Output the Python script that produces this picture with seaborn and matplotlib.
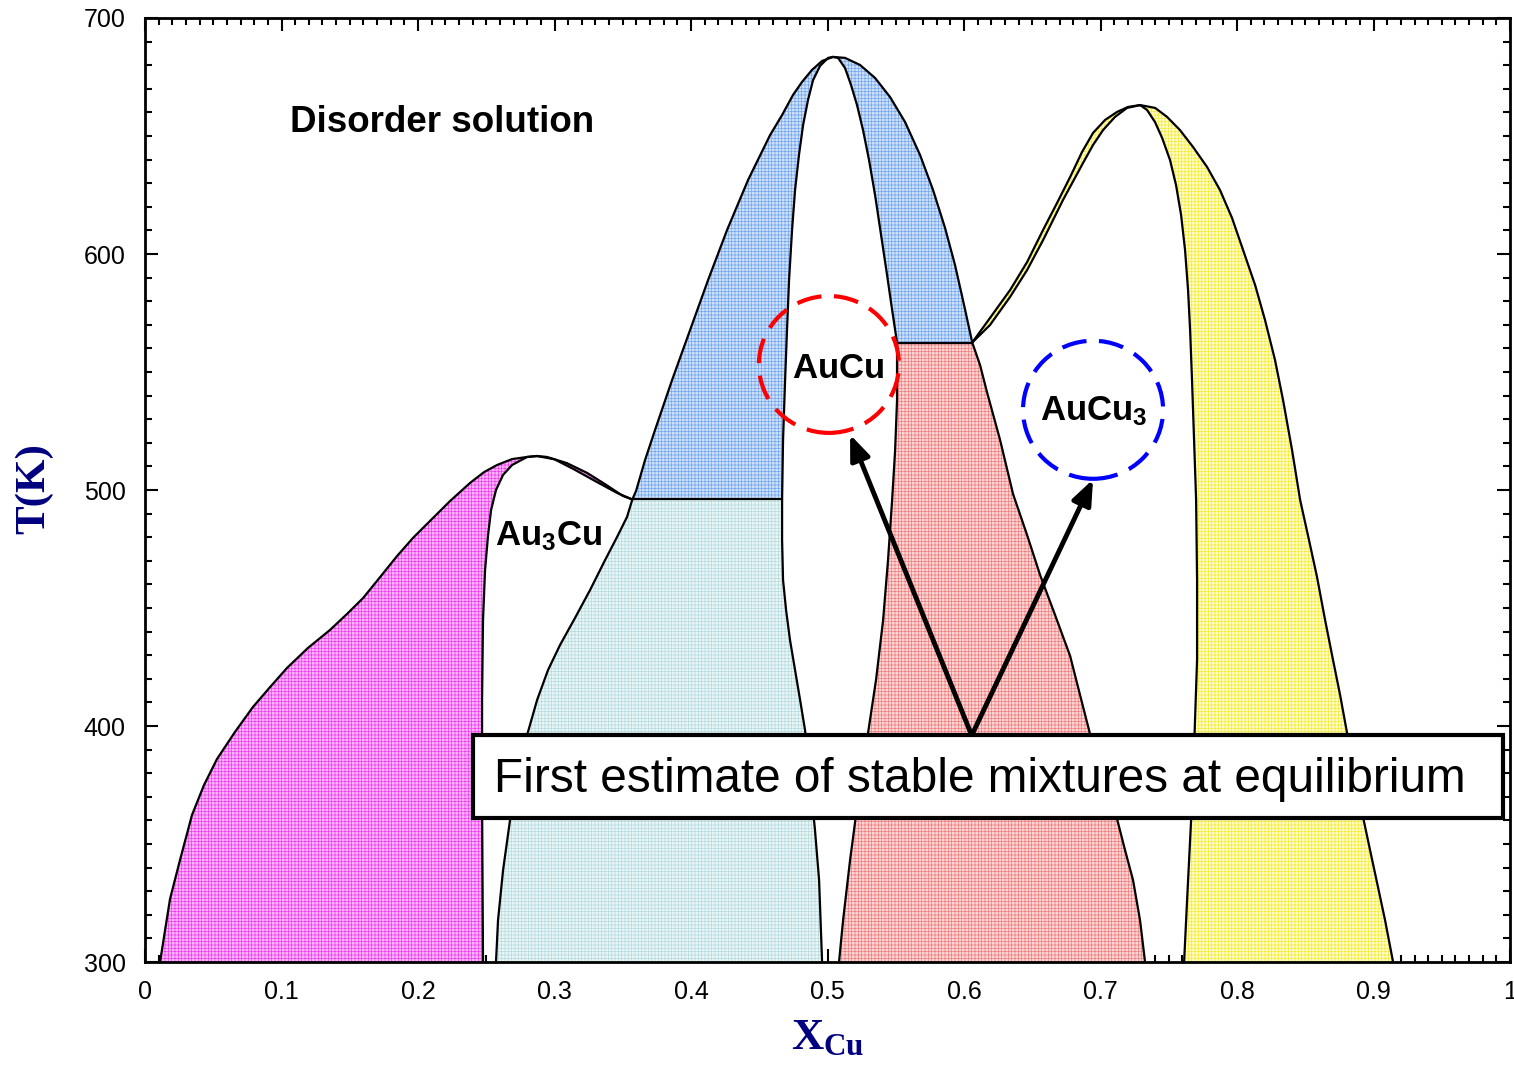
import numpy as np
import matplotlib
matplotlib.use('Agg')
import matplotlib.pyplot as plt
import seaborn as sns
from matplotlib.patches import Ellipse, Rectangle
from matplotlib.ticker import FixedLocator, MultipleLocator

# Au-Cu phase diagram: boundaries (x = X_Cu, t = T in K)

# Au-rich side: disorder / (disorder + Au3Cu) boundary
mag_outer_x = [0.011, 0.0147, 0.0183, 0.0256, 0.0344, 0.0432, 0.0527, 0.0659, 0.0791, 0.0916, 0.1040,
               0.1194, 0.1355, 0.1480, 0.1597, 0.1722, 0.1846, 0.1963, 0.2088, 0.2234, 0.2381, 0.2484,
               0.2579, 0.2689, 0.2799, 0.2872]
mag_outer_t = [300, 313.6, 326.7, 343.2, 362.3, 375.0, 386.0, 397.5, 408.1, 416.5, 424.6,
               433.1, 440.7, 447.5, 454.2, 463.1, 472.0, 479.7, 486.9, 495.3, 503.0, 507.6,
               510.6, 513.1, 514.0, 514.4]
# Au3Cu left boundary
au3cu_left_x = [0.2872, 0.2799, 0.2689, 0.2623, 0.2571, 0.2535, 0.2513, 0.2491, 0.2476, 0.2469, 0.2469, 0.2476]
au3cu_left_t = [514.4, 514.0, 510.6, 506.4, 500.0, 491.5, 480.9, 466.1, 444.9, 411.0, 368.6, 300]
# thin two-phase band on the right of Au3Cu
mag_band_up_x = [0.2872, 0.2945, 0.309, 0.324, 0.338, 0.350, 0.357]
mag_band_up_t = [514.4, 514.0, 511.4, 507.2, 502.1, 497.5, 496.0]
mag_band_lo_x = [0.2872, 0.300, 0.3135, 0.331, 0.346, 0.357]
mag_band_lo_t = [514.4, 513.0, 509.0, 503.4, 498.7, 496.0]

# Au3Cu + AuCu region
cyan_left_x = [0.357, 0.3531, 0.3458, 0.3370, 0.3260, 0.3150, 0.3040, 0.2952, 0.2872, 0.2799, 0.2733,
               0.2674, 0.2623, 0.2586, 0.2571]
cyan_left_t = [496, 488.6, 480.1, 470.3, 457.6, 445.8, 434.3, 423.7, 411.0, 396.2, 381.4,
               360.2, 339.0, 317.8, 300]
cyan_right_x = [0.4667, 0.4667, 0.4674, 0.4696, 0.4725, 0.4762, 0.4799, 0.4835, 0.4872, 0.4908, 0.4938, 0.4960]
cyan_right_t = [496, 478.8, 461.9, 449.2, 436.4, 423.7, 411.0, 398.3, 377.1, 355.9, 334.7, 300]

# AuCu dome
blue_outer_left_x = [0.357, 0.3597, 0.3663, 0.3736, 0.3861, 0.3993, 0.4125, 0.4264, 0.4418, 0.4579, 0.4667,
                     0.4747, 0.4813, 0.4886, 0.4960, 0.504]
blue_outer_left_t = [496, 499.6, 512.7, 525.4, 546.6, 567.8, 589.0, 610.2, 631.4, 650.4, 658.9,
                     667.4, 672.9, 678.0, 681.8, 683.5]
aucu_inner_left_x = [0.504, 0.5004, 0.4945, 0.4894, 0.4857, 0.4821, 0.4791, 0.4762, 0.4740, 0.4718, 0.4703,
                     0.4689, 0.4674, 0.4667]
aucu_inner_left_t = [683.5, 683.1, 679.7, 673.7, 665.3, 654.7, 642.1, 627.1, 610.2, 589.0, 567.8,
                     546.6, 521.2, 496]
aucu_inner_right_x = [0.504, 0.5077, 0.5128, 0.5172, 0.5216, 0.5260, 0.5304, 0.5348, 0.5392, 0.5436, 0.5473, 0.5509]
aucu_inner_right_t = [683.5, 683.1, 678.8, 671.6, 663.1, 652.5, 639.8, 625.0, 608.1, 591.1, 576.3, 562.5]
blue_outer_right_x = [0.504, 0.5128, 0.5238, 0.5348, 0.5458, 0.5568, 0.5678, 0.5773, 0.5861, 0.5934, 0.6000, 0.6060]
blue_outer_right_t = [683.5, 683.1, 680.1, 674.6, 666.5, 655.9, 641.9, 627.1, 611.0, 595.3, 578.4, 562.5]

# AuCu + AuCu3 region
red_left_x = [0.5509, 0.5509, 0.5495, 0.5473, 0.5443, 0.5407, 0.5355, 0.5289, 0.5223, 0.5165, 0.5114, 0.5084]
red_left_t = [562.5, 538.1, 516.9, 495.8, 470.3, 444.9, 419.5, 394.1, 368.6, 343.2, 317.8, 300]
red_right_x = [0.6060, 0.6117, 0.6168, 0.6264, 0.6359, 0.6462, 0.6557, 0.6667, 0.6777, 0.6850, 0.6923,
               0.7026, 0.7121, 0.7179, 0.7238, 0.7289, 0.7326]
red_right_t = [562.5, 553.0, 541.5, 521.2, 498.3, 480.9, 464.0, 447.0, 429.7, 413.1, 396.6,
               378.4, 360.6, 347.5, 334.7, 317.8, 300]

# AuCu3 dome
yel_band_up_x = [0.6060, 0.6190, 0.6337, 0.6462, 0.6579, 0.6681, 0.6777, 0.6864, 0.6945, 0.7033, 0.7121, 0.7201, 0.729]
yel_band_up_t = [562.5, 572.9, 584.7, 596.6, 610.2, 621.6, 632.6, 643.2, 651.3, 656.8, 660.2, 662.3, 663.1]
yel_band_lo_x = [0.6060, 0.6190, 0.6337, 0.6462, 0.6579, 0.6725, 0.6872, 0.6945, 0.7018, 0.7106, 0.7194, 0.729]
yel_band_lo_t = [562.5, 569.9, 581.8, 593.2, 605.9, 622.9, 638.6, 646.2, 652.5, 658.1, 661.9, 663.1]
yel_inner_x = [0.729, 0.7341, 0.7399, 0.7451, 0.7509, 0.7553, 0.7590, 0.7619, 0.7641, 0.7656, 0.7670, 0.7685,
               0.7700, 0.7707, 0.7707, 0.7692, 0.7678, 0.7656, 0.7634, 0.7612]
yel_inner_t = [663.1, 661.0, 655.9, 649.2, 639.8, 629.2, 616.5, 601.7, 584.7, 567.8, 546.6, 521.2,
               495.8, 461.9, 428.0, 402.5, 377.1, 351.7, 326.3, 300]
yel_outer_x = [0.729, 0.740, 0.7487, 0.7582, 0.7678, 0.7780, 0.7875, 0.7963, 0.8044, 0.8132, 0.8205, 0.8278,
               0.8337, 0.8403, 0.8462, 0.8527, 0.8586, 0.8645, 0.8703, 0.8755, 0.8806, 0.8864, 0.8923,
               0.8974, 0.9026, 0.9084, 0.9143]
yel_outer_t = [663.1, 661.9, 658.1, 652.5, 645.3, 636.9, 627.1, 615.3, 601.7, 586.9, 572.0, 555.1,
               538.1, 516.9, 495.8, 478.8, 463.1, 444.9, 428.0, 413.1, 397.0, 379.2, 361.4,
               347.5, 333.5, 317.8, 300]

# tie lines
tie_t = [496, 562.5]
tie_x0 = [0.357, 0.5509]
tie_x1 = [0.4667, 0.6060]

x_ticks = [0, 0.1, 0.2, 0.3, 0.4, 0.5, 0.6, 0.7, 0.8, 0.9, 1]
x_tick_labels = ['0', '0.1', '0.2', '0.3', '0.4', '0.5', '0.6', '0.7', '0.8', '0.9', '1']
y_ticks = [300, 400, 500, 600, 700]
y_tick_labels = ['300', '400', '500', '600', '700']

sns.set_style('ticks')
plt.rcParams['font.family'] = ['Liberation Sans', 'DejaVu Sans']
plt.rcParams['text.color'] = 'black'
plt.rcParams['axes.labelcolor'] = 'black'
plt.rcParams['xtick.color'] = 'black'
plt.rcParams['ytick.color'] = 'black'
plt.rcParams['mathtext.fontset'] = 'custom'
plt.rcParams['mathtext.rm'] = 'Liberation Sans'
plt.rcParams['mathtext.sf'] = 'Liberation Sans:bold'
plt.rcParams['mathtext.bf'] = 'Liberation Serif:bold'
plt.rcParams['hatch.linewidth'] = 0.5

fig = plt.figure(figsize=(15.14, 10.65), dpi=100)
ax = fig.add_axes([0.0958, 0.0967, 0.9016, 0.8864])

def region(xs, ts, face, hatch_col):
    ax.fill(np.concatenate(xs), np.concatenate(ts), facecolor=face, edgecolor=hatch_col,
            hatch='+++++', linewidth=0, zorder=1)

rev = lambda a: a[::-1]

region([mag_outer_x, au3cu_left_x[1:]], [mag_outer_t, au3cu_left_t[1:]], '#FBB4FB', '#EE3CEE')
region([mag_band_up_x, rev(mag_band_lo_x)], [mag_band_up_t, rev(mag_band_lo_t)], '#FBB4FB', '#EE3CEE')
region([cyan_left_x, rev(cyan_right_x)], [cyan_left_t, rev(cyan_right_t)], '#EAF6F6', '#B4DADE')
region([blue_outer_left_x, aucu_inner_left_x[1:]], [blue_outer_left_t, aucu_inner_left_t[1:]], '#CFE0F8', '#6FA6EE')
region([aucu_inner_right_x, rev(blue_outer_right_x)], [aucu_inner_right_t, rev(blue_outer_right_t)], '#CFE0F8', '#6FA6EE')
region([red_left_x, rev(red_right_x)], [red_left_t, rev(red_right_t)], '#FCD6D6', '#F07C7C')
region([yel_band_up_x, rev(yel_band_lo_x)], [yel_band_up_t, rev(yel_band_lo_t)], '#FFFCC4', '#F4EA3C')
region([yel_inner_x, rev(yel_outer_x)], [yel_inner_t, rev(yel_outer_t)], '#FFFCC4', '#F4EA3C')

curves = [
    (mag_outer_x, mag_outer_t), (au3cu_left_x, au3cu_left_t),
    (mag_band_up_x, mag_band_up_t), (mag_band_lo_x, mag_band_lo_t),
    (cyan_left_x, cyan_left_t), (cyan_right_x, cyan_right_t),
    (blue_outer_left_x, blue_outer_left_t), (aucu_inner_left_x, aucu_inner_left_t),
    (aucu_inner_right_x, aucu_inner_right_t), (blue_outer_right_x, blue_outer_right_t),
    (red_left_x, red_left_t), (red_right_x, red_right_t),
    (yel_band_up_x, yel_band_up_t), (yel_band_lo_x, yel_band_lo_t),
    (yel_inner_x, yel_inner_t), (yel_outer_x, yel_outer_t),
]
for cx, ct in curves:
    sns.lineplot(x=cx, y=ct, sort=False, estimator=None, color='black', lw=1.6, ax=ax, zorder=3)
ax.hlines(tie_t, tie_x0, tie_x1, color='black', lw=1.6, zorder=3)

# annotations
ax.text(0.1062, 651.7, 'Disorder solution', fontsize=26.5, fontweight='bold', ha='left', va='baseline')
ax.text(0.2564, 476.7, r'$\mathsf{Au_3Cu}$', fontsize=25, ha='left', va='baseline', zorder=4)
ax.text(0.474, 547.5, r'$\mathsf{AuCu}$', fontsize=25, ha='left', va='baseline', zorder=4)
ax.text(0.6557, 529.7, r'$\mathsf{AuCu_3}$', fontsize=25, ha='left', va='baseline', zorder=4)

ax.add_patch(Ellipse((0.501, 553.2), 0.1026, 58.0, fill=False, ec='#FF0000', lw=3,
                     ls=(0, (6, 3)), zorder=5))
ax.add_patch(Ellipse((0.6945, 534.0), 0.1026, 58.5, fill=False, ec='#0000FF', lw=3,
                     ls=(0, (6, 3)), zorder=5))

for tip in [(0.5165, 523.5), (0.6945, 504.5)]:
    ax.annotate('', xy=tip, xytext=(0.6056, 396.0),
                arrowprops=dict(arrowstyle='-|>,head_length=0.75,head_width=0.3', lw=3.5,
                                color='black', mutation_scale=20, shrinkA=0, shrinkB=0),
                zorder=5)

ax.add_patch(Rectangle((0.2403, 361.0), 0.7546, 35.2, fc='white', ec='black', lw=3, zorder=6))
ax.text(0.6117, 372.2, 'First estimate of stable mixtures at equilibrium', fontsize=34.4,
        ha='center', va='baseline', zorder=7)

# axes styling
ax.set_xlim(0, 1)
ax.set_ylim(300, 700)
ax.xaxis.set_major_locator(FixedLocator(x_ticks))
ax.set_xticklabels(x_tick_labels)
ax.xaxis.set_minor_locator(MultipleLocator(0.01))
ax.yaxis.set_major_locator(FixedLocator(y_ticks))
ax.set_yticklabels(y_tick_labels)
ax.yaxis.set_minor_locator(MultipleLocator(10))
ax.tick_params(which='both', direction='in', top=True, right=True, width=1.5, color='black')
ax.tick_params(which='major', length=9.5, labelsize=18, labelcolor='black')
ax.tick_params(which='minor', length=5)
ax.tick_params(axis='x', which='major', pad=13)
ax.tick_params(axis='y', which='major', pad=14)
for sp in ax.spines.values():
    sp.set_linewidth(2)
    sp.set_color('black')
    sp.set_zorder(8)

ax.set_xlabel(r'$\mathbf{X_{Cu}}$', fontsize=32, color='#000080')
ax.xaxis.set_label_coords(0.5004, -0.058)
ax.set_ylabel('T(K)', fontsize=31, fontweight='bold', color='#000080', family='Liberation Serif')
ax.yaxis.set_label_coords(-0.0674, 0.501)

fig.savefig('out.png', dpi=100)
